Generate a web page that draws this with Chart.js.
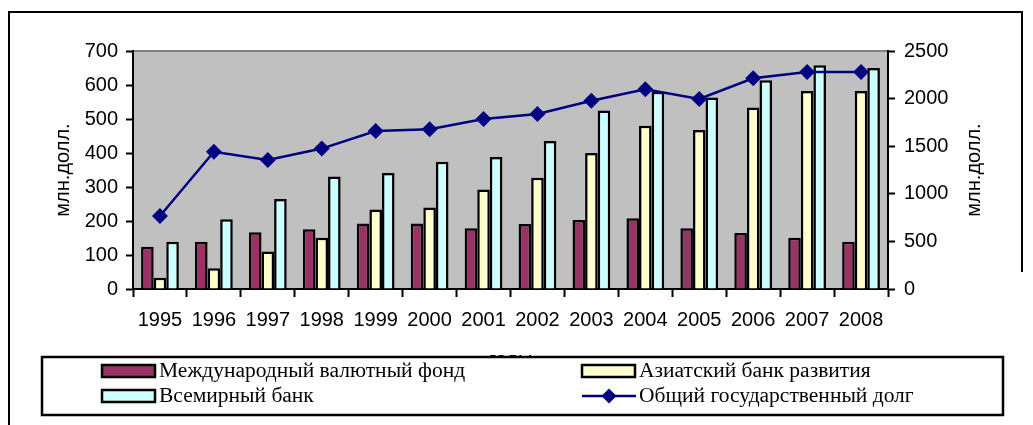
<!DOCTYPE html>
<html><head><meta charset="utf-8">
<script src="https://cdn.jsdelivr.net/npm/chart.js@4/dist/chart.umd.min.js"></script>
<style>html,body{margin:0;padding:0;background:#fff;overflow:hidden}</style>
</head><body>
<canvas id="c" width="1033" height="425"></canvas>
<script>
const years = ['1995','1996','1997','1998','1999','2000','2001','2002','2003','2004','2005','2006','2007','2008'];
const imf = [124, 139, 167, 176, 193, 193, 179, 191, 203, 208, 179, 165, 151, 139];
const adb = [33, 61, 110, 151, 234, 240, 293, 327, 400, 480, 468, 534, 582, 582];
const wb = [139, 205, 265, 331, 341, 374, 388, 435, 525, 580, 563, 614, 658, 650];
const totalDebt = [767, 1442, 1355, 1475, 1660, 1677, 1786, 1838, 1978, 2097, 1996, 2213, 2279, 2279];
const seriesNames = ['Международный валютный фонд', 'Азиатский банк развития', 'Всемирный банк', 'Общий государственный долг'];
const yTitle = 'млн.долл.';
const xTitle = 'годы';

const tickFont = {family: '"Liberation Sans", Arial, sans-serif', size: 20};
const black = '#000';

const decor = {
  id: 'decor',
  beforeDraw(chart) {
    const {ctx, chartArea: a} = chart;
    ctx.save();
    ctx.fillStyle = '#fff';
    ctx.fillRect(0, 0, chart.width, chart.height);
    ctx.fillStyle = '#C0C0C0';
    ctx.fillRect(a.left, a.top, a.right - a.left, a.bottom - a.top);
    ctx.strokeStyle = '#808080';
    ctx.lineWidth = 2;
    ctx.beginPath(); ctx.moveTo(a.left, a.top); ctx.lineTo(a.right, a.top); ctx.stroke();
    ctx.restore();
  },
  afterDraw(chart) {
    const {ctx} = chart;
    ctx.save();
    // outer frame
    ctx.strokeStyle = black; ctx.lineWidth = 2;
    ctx.beginPath();
    ctx.moveTo(9, 425); ctx.lineTo(9, 12); ctx.lineTo(1022, 12); ctx.lineTo(1022, 272);
    ctx.stroke();
    // right axis title (reads bottom to top)
    ctx.fillStyle = black;
    ctx.font = '20px "Liberation Sans", Arial, sans-serif';
    ctx.textAlign = 'center'; ctx.textBaseline = 'middle';
    ctx.translate(974, 170); ctx.rotate(-Math.PI / 2);
    ctx.fillText(yTitle, 0, 0);
    ctx.restore();

    // legend box
    ctx.save();
    ctx.fillStyle = '#fff';
    ctx.fillRect(42, 357, 961, 58);
    ctx.strokeStyle = black; ctx.lineWidth = 2.5;
    ctx.strokeRect(42, 357, 961, 58);
    const pos = [[102, 371], [582, 371], [102, 396], [582, 396]];
    const ds = chart.data.datasets;
    ctx.font = '20px "Liberation Serif", "Times New Roman", serif';
    ctx.textBaseline = 'middle'; ctx.textAlign = 'left';
    ds.forEach((d, i) => {
      const [x, y] = pos[i];
      if (d.type === 'line') {
        ctx.strokeStyle = d.borderColor; ctx.lineWidth = 2.5;
        ctx.beginPath(); ctx.moveTo(x, y); ctx.lineTo(x + 54, y); ctx.stroke();
        ctx.fillStyle = d.pointBackgroundColor;
        const cx = x + 27, r = 7.5;
        ctx.beginPath(); ctx.moveTo(cx, y - r); ctx.lineTo(cx + r, y); ctx.lineTo(cx, y + r); ctx.lineTo(cx - r, y); ctx.closePath(); ctx.fill();
      } else {
        ctx.fillStyle = d.backgroundColor;
        ctx.fillRect(x, y - 6, 53, 12);
        ctx.strokeStyle = black; ctx.lineWidth = 2.5;
        ctx.strokeRect(x, y - 6, 53, 12);
      }
      ctx.fillStyle = black;
      ctx.save();
      ctx.translate(x + 57, y + 1);
      ctx.scale(1.075, 1);
      ctx.fillText(d.label, 0, 0);
      ctx.restore();
    });
    ctx.restore();
  }
};

new Chart(document.getElementById('c'), {
  type: 'bar',
  data: {
    labels: years,
    datasets: [
      {label: seriesNames[0], data: imf, backgroundColor: '#993366', borderColor: black, borderWidth: 2.5, yAxisID: 'y', order: 2},
      {label: seriesNames[1], data: adb, backgroundColor: '#FFFFCC', borderColor: black, borderWidth: 2.5, yAxisID: 'y', order: 2},
      {label: seriesNames[2], data: wb, backgroundColor: '#CCFFFF', borderColor: black, borderWidth: 2.5, yAxisID: 'y', order: 2},
      {type: 'line', label: seriesNames[3], data: totalDebt, yAxisID: 'y2', order: 0,
       borderColor: '#000080', borderWidth: 2.5, tension: 0,
       pointStyle: 'rectRot', pointRadius: 8, pointBackgroundColor: '#000080', pointBorderColor: '#000080', pointBorderWidth: 0}
    ]
  },
  options: {
    responsive: false,
    devicePixelRatio: 1,
    animation: false,
    layout: {padding: {top: 51, left: 0, right: 0, bottom: 0}},
    datasets: {bar: {categoryPercentage: 0.7, barPercentage: 1.0}},
    plugins: {legend: {display: false}, tooltip: {enabled: false}},
    scales: {
      x: {
        offset: true,
        grid: {display: true, drawOnChartArea: false, offset: true, tickLength: 8, tickWidth: 2, tickColor: black},
        border: {color: black, width: 2},
        ticks: {color: black, font: tickFont, padding: 11, maxRotation: 0, autoSkip: false},
        title: {display: true, text: xTitle, color: black, font: tickFont, padding: {top: 0, bottom: 53}},
        afterFit: s => { s.height = 136; }
      },
      y: {
        position: 'left', min: 0, max: 700,
        grid: {drawOnChartArea: false, tickLength: 7, tickWidth: 2, tickColor: black},
        border: {color: black, width: 2},
        ticks: {stepSize: 100, color: black, font: tickFont, padding: 8, callback: v => String(v)},
        title: {display: true, text: yTitle, color: black, font: tickFont, padding: {top: 51, bottom: 0}},
        afterFit: s => { s.width = 133; }
      },
      y2: {
        position: 'right', min: 0, max: 2500,
        grid: {drawOnChartArea: false, tickLength: 7, tickWidth: 2, tickColor: black},
        border: {color: black, width: 2},
        ticks: {stepSize: 500, color: black, font: tickFont, padding: 9, callback: v => String(v)},
        afterFit: s => { s.width = 145; }
      }
    }
  },
  plugins: [decor]
});
</script>
</body></html>
